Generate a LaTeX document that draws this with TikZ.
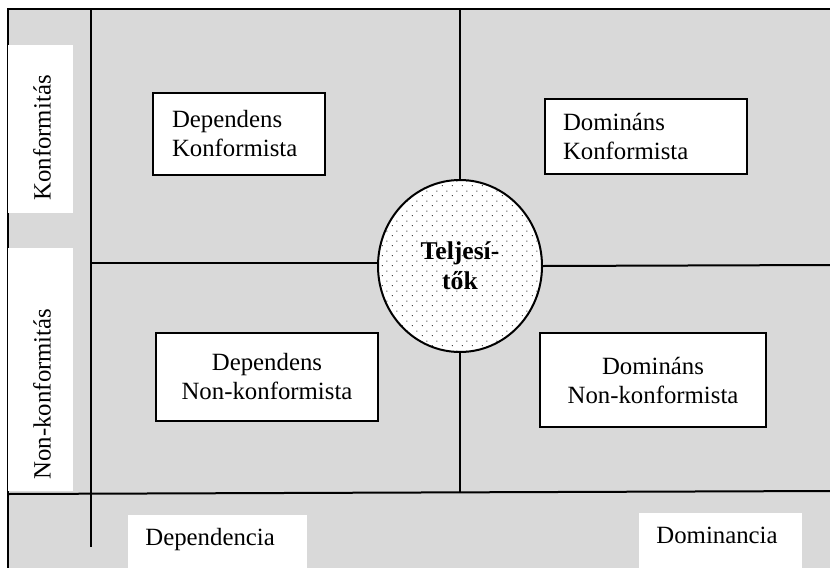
\documentclass[tikz,border=0pt]{standalone}
\usepackage{fontspec}
\setmainfont{Liberation Serif}
\usetikzlibrary{shapes.geometric,patterns}
\definecolor{bggray}{RGB}{217,217,217}
\pgfdeclarepatternformonly{sparsedots}{\pgfqpoint{0pt}{0pt}}{\pgfqpoint{5pt}{5pt}}{\pgfqpoint{5pt}{5pt}}{%
    \pgfpathcircle{\pgfqpoint{1.25pt}{1.25pt}}{0.3pt}%
    \pgfpathcircle{\pgfqpoint{3.75pt}{3.75pt}}{0.3pt}%
    \pgfusepath{fill}}

\begin{document}
\begin{tikzpicture}[
        x=0.5pt, y=-0.5pt,            % one unit = one pixel of the reference
        every node/.style={font=\fontsize{12.4}{14.5}\selectfont},
        line/.style={line width=1pt},
        typebox/.style={
            draw,
            fill=white,
            line width=1pt,
            inner ysep=0pt
        },
        sidebox/.style={fill=white}
    ]
        \useasboundingbox (0,0) rectangle (830,568);

        % háttér
        \fill[bggray] (8,9) rectangle (830,568);
        \draw[line] (830,9) -- (8,9) -- (8,568);

        % tengelyfeliratok
        \fill[sidebox] (8,45) rectangle (73,213);
        \node[rotate=90] (konf) at (42,138) {Konformitás};
        \fill[sidebox] (8,248) rectangle (73,491);
        \node[rotate=90] (nonkonf) at (42,394) {Non-konformitás};
        \fill[sidebox] (128,515) rectangle (307,568);
        \node[anchor=base west, inner sep=0pt] (dep) at (145,545) {Dependencia};
        \fill[sidebox] (639,513) rectangle (802,568);
        \node[anchor=base west, inner sep=0pt] (dom) at (656,543) {Dominancia};

        % végpontok
        \coordinate (vtop) at (91,9);
        \coordinate (vbot) at (91,547);
        \coordinate (htl) at (91,263);
        \coordinate (htr) at (830,265);
        \coordinate (hbl) at (8,494);
        \coordinate (hbr) at (830,491);
        \coordinate (mtop) at (460,9);
        \coordinate (mbot) at (460,493);

        % középső ellipszis
        \node[ellipse, draw, line width=1pt, fill=white,
              postaction={pattern=sparsedots},
              minimum width=82pt, minimum height=86pt,
              align=center, font=\fontsize{12.8}{15}\selectfont\bfseries]
              (tel) at (460,266) {Teljesí-\\tők};

        % vonalak
        \draw[line] (vtop) -- (vbot);
        \draw[line] (htl) -- (htl -| tel.west);
        \draw[line] (tel.east) -- (htr);
        \draw[line] (mtop) -- (tel.north);
        \draw[line] (tel.south) -- (mbot);
        \draw[line] (hbl) -- (hbr);

        % típusok
        \node[typebox, inner xsep=9.5pt, text width=67pt, minimum height=41pt,
              align=left] (depkonf) at (239,134) {Dependens\\Konformista};
        \node[typebox, inner xsep=9pt, text width=83pt, minimum height=37.5pt,
              align=left] (domkonf) at (646,136.5) {Domináns\\Konformista};
        \node[typebox, minimum width=111pt, minimum height=44pt,
              align=center] (depnon) at (267,377) {Dependens\\Non-konformista};
        \node[typebox, minimum width=113pt, minimum height=47pt,
              align=center] (domnon) at (653,380) {Domináns\\Non-konformista};
    \end{tikzpicture}
\end{document}
